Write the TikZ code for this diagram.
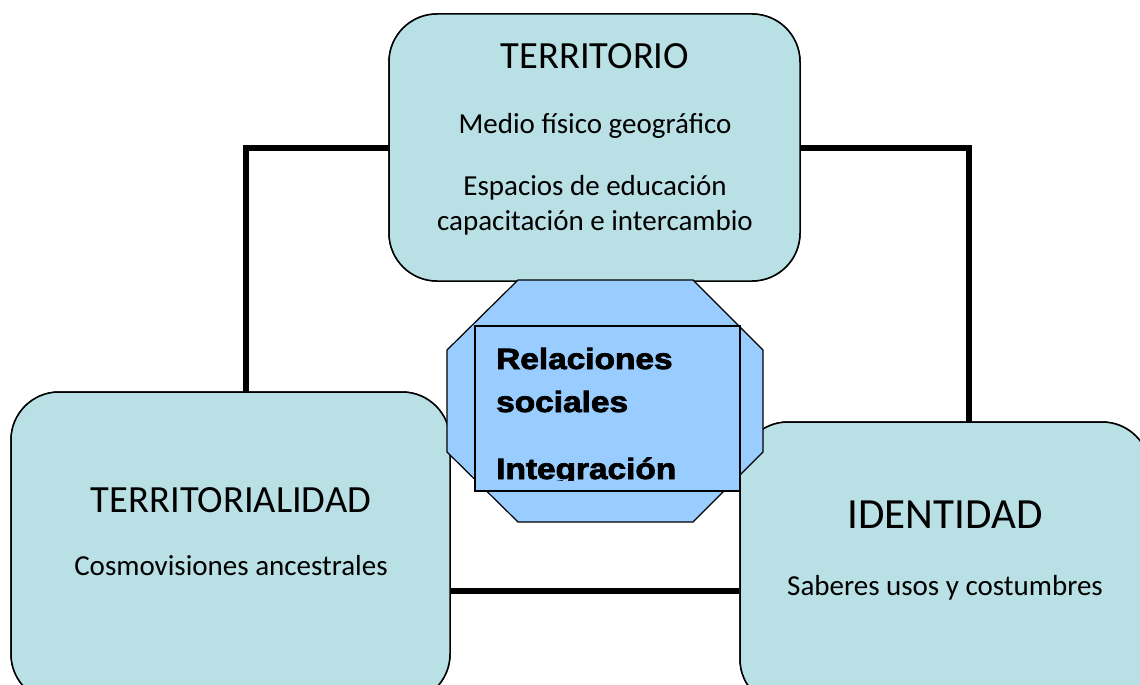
\documentclass[tikz,border=0pt]{standalone}
\usepackage{fontspec}
\setmainfont{Carlito}
\newfontfamily\relfont[FakeBold=2.5]{Liberation Sans}
\usepackage{graphicx}
\definecolor{boxfill}{RGB}{185,224,228}
\definecolor{octfill}{RGB}{153,204,255}
\begin{document}
\begin{tikzpicture}[x=1pt,y=-1pt,
  box/.style={draw=black,line width=1.5pt,fill=boxfill,rounded corners=48pt,inner sep=0pt},
  conn/.style={draw=black,line width=5.5pt},
  title/.style={anchor=base,font=\fontsize{38.5}{40}\selectfont},
  sub/.style={anchor=base,font=\fontsize{29}{31}\selectfont},
  rel/.style={anchor=base west,inner sep=0pt,font=\relfont\bfseries\fontsize{29.3}{31}\selectfont}]
\clip (0,0) rectangle (1140,685);
\fill[white] (0,0) rectangle (1140,685);
% boxes (positions)
\node[box,minimum width=411pt,minimum height=267pt] (top) at (594.5,147.5) {};
\node[box,minimum width=439pt,minimum height=310pt] (lft) at (230.5,547) {};
\node[box,minimum width=410pt,minimum height=285pt] (rgt) at (945,564.5) {};
% connectors
\coordinate (cL) at (246,148);
\coordinate (cR) at (969,148);
\coordinate (cB) at (0,591);
\draw[conn,line cap=rect] (top.west |- cL) -- (cL) -- (cL |- lft.north);
\draw[conn,line cap=rect] (top.east |- cR) -- (cR) -- (cR |- rgt.north);
\draw[conn] (lft.east |- cB) -- (rgt.west |- cB);
% redraw boxes on top of connectors
\node[box,minimum width=411pt,minimum height=267pt] at (top) {};
\node[box,minimum width=439pt,minimum height=310pt] at (lft) {};
\node[box,minimum width=410pt,minimum height=285pt] at (rgt) {};
% texts
\node[title] (t1) at (595,68) {TERRITORIO};
\node[sub] (t2) at (595,133) {Medio físico geográfico};
\node[sub] (t3) at (595,195) {Espacios de educación};
\node[sub] (t4) at (595,230) {capacitación e intercambio};
\node[title] (l1) at (231,512) {TERRITORIALIDAD};
\node[sub] (l2) at (231,575) {Cosmovisiones ancestrales};
\node[anchor=base,font=\fontsize{43}{45}\selectfont] (r1) at (945,528) {IDENTIDAD};
\node[sub] (r2) at (945,595) {Saberes usos y costumbres};
% octagon
\draw[line width=1.2pt,fill=octfill,line join=miter]
  (518,280) -- (693,280) -- (763,350) -- (763,452) -- (693,522) -- (518,522) -- (447,452) -- (447,350) -- cycle;
\node[draw=black,line width=1.5pt,fill=octfill,minimum width=265pt,minimum height=165pt,inner sep=0pt] (rect) at (607.5,408.5) {};
\begin{scope}
\clip (470,326) rectangle (745,480);
\node[rel] (x1) at (496,369) {\scalebox{1.14}[1]{Relaciones}};
\node[rel] (x2) at (496,412) {\scalebox{1.14}[1]{sociales}};
\node[rel] (x3) at (496,479) {\scalebox{1.14}[1]{Integración}};
\end{scope}
\end{tikzpicture}
\end{document}
